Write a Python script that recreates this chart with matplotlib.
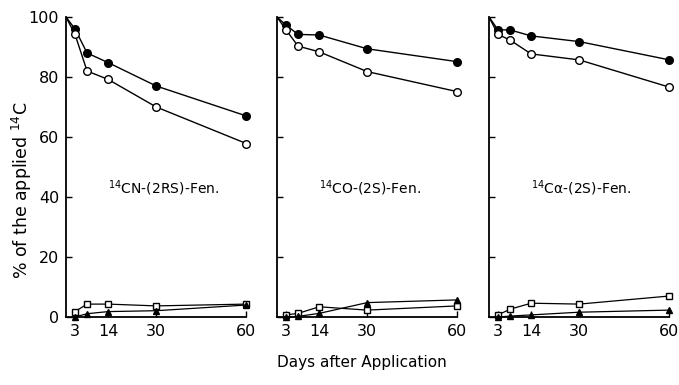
import matplotlib
matplotlib.use('Agg')
import matplotlib.pyplot as plt

plt.rcParams['font.family'] = ['DejaVu Sans']

days = [0, 3, 7, 14, 30, 60]
tick_days = [3, 14, 30, 60]
titles = ['$^{14}$CN-(2RS)-Fen.', '$^{14}$CO-(2S)-Fen.', '$^{14}$C\u03b1-(2S)-Fen.']

# filled circles
filled = [
    [100, 96.0, 88.0, 84.8, 77.0, 67.0],
    [100, 97.3, 94.2, 94.0, 89.4, 85.1],
    [100, 95.7, 95.7, 93.7, 91.8, 85.7],
]
# open circles
opened = [
    [100, 94.2, 82.0, 79.2, 70.0, 57.8],
    [100, 95.7, 90.3, 88.4, 81.8, 75.1],
    [100, 94.2, 92.3, 87.7, 85.7, 76.6],
]
# open squares (days 3..60)
squares = [
    [1.8, 4.3, 4.3, 3.7, 4.3],
    [0.7, 1.2, 3.4, 2.3, 3.7],
    [0.7, 2.6, 4.6, 4.3, 7.0],
]
# filled triangles (days 3..60)
triangles = [
    [0.0, 1.1, 1.8, 2.1, 4.0],
    [0.0, 0.2, 1.2, 4.8, 5.7],
    [0.0, 0.3, 0.7, 1.6, 2.3],
]

fig = plt.figure(figsize=(6.79, 3.85), dpi=100)
W, H = 679.0, 385.0
lefts = [66, 277, 489]

for i in range(3):
    ax = fig.add_axes([lefts[i] / W, (H - 317) / H, 182 / W, 300 / H])
    ax.plot(days, filled[i], '-', color='black', lw=1)
    ax.plot(days[1:], filled[i][1:], 'o', color='black', ms=5.5, clip_on=False)
    ax.plot(days, opened[i], '-', color='black', lw=1)
    ax.plot(days[1:], opened[i][1:], 'o', mfc='white', mec='black', ms=5.5, clip_on=False)
    ax.plot(days[1:], squares[i], '-s', color='black', mfc='white', lw=0.9, ms=5, clip_on=False)
    ax.plot(days[1:], triangles[i], '-^', color='black', lw=0.9, ms=4.5, clip_on=False)

    ax.set_xlim(0, 60.5)
    ax.set_ylim(0, 100)
    ax.spines['top'].set_visible(False)
    ax.spines['right'].set_visible(False)
    ax.spines['left'].set_linewidth(1.3)
    ax.spines['bottom'].set_linewidth(1.3)
    ax.spines['bottom'].set_bounds(0, 60)
    ax.set_xticks(tick_days)
    ax.set_yticks([0, 20, 40, 60, 80, 100])
    ax.tick_params(direction='in', length=4, width=1, labelsize=11.5, pad=5)
    if i > 0:
        ax.set_yticklabels([])
    ax.text(14, 41, titles[i], fontsize=10, ha='left', va='baseline')

fig.text(22 / W, 1 - 190 / H, '% of the applied $^{14}$C', rotation=90,
         ha='center', va='center', fontsize=12.5)
fig.text(362 / W, 1 - 362 / H, 'Days after Application', ha='center', va='center', fontsize=11)

fig.savefig('out.png', dpi=100)
